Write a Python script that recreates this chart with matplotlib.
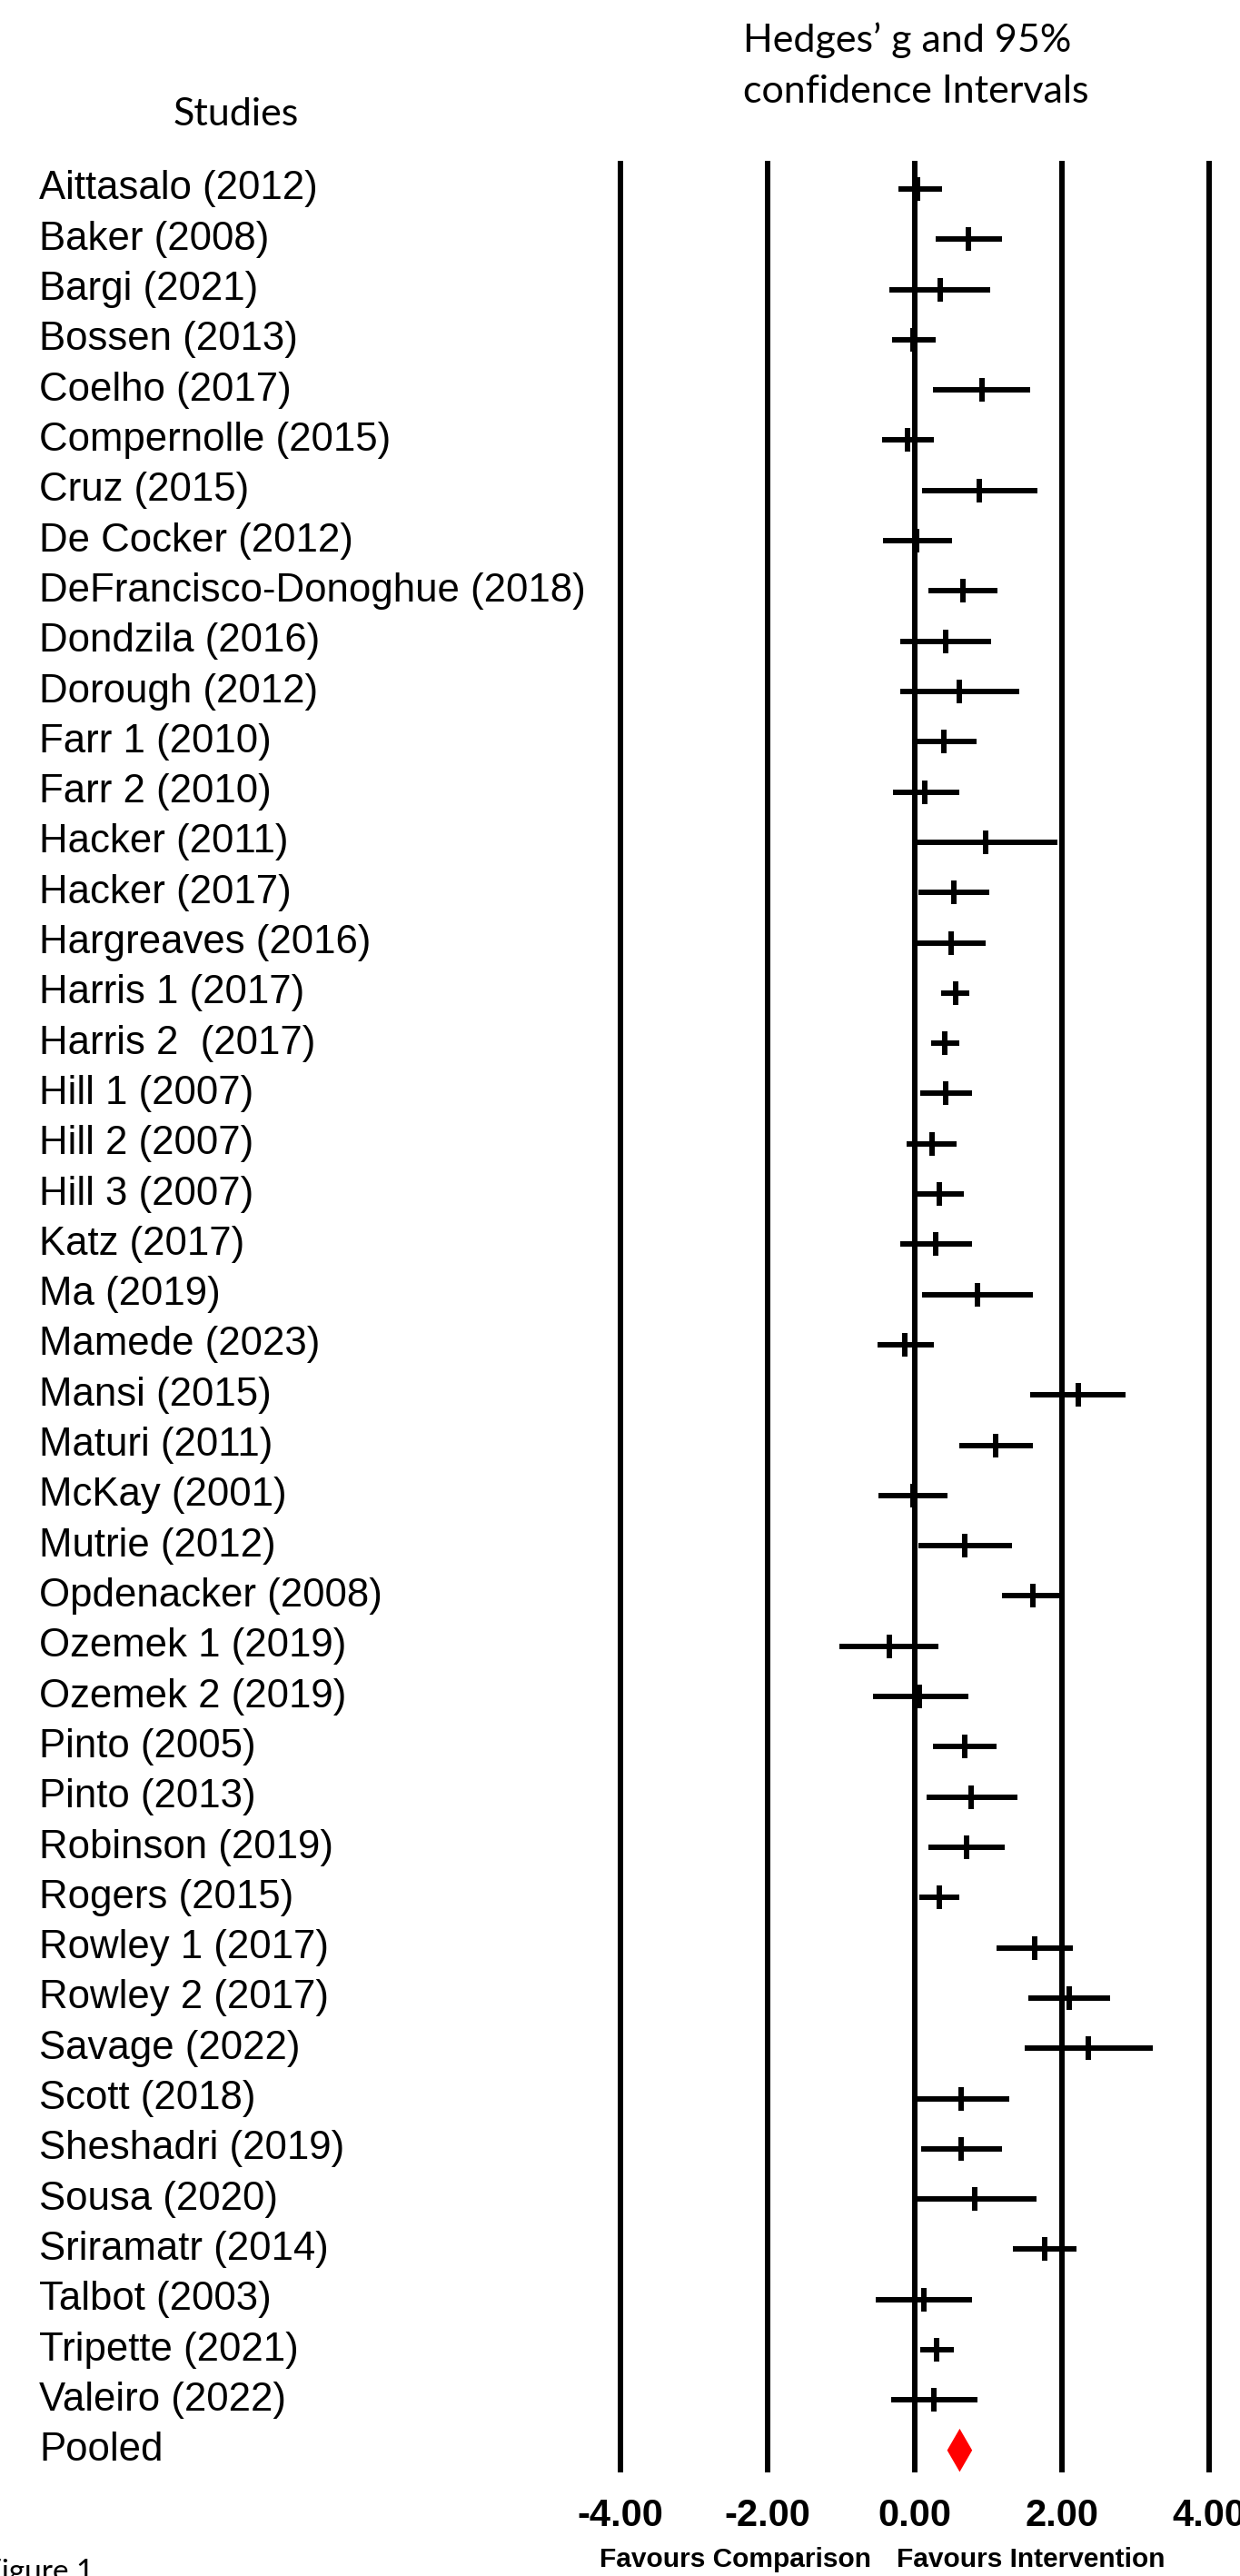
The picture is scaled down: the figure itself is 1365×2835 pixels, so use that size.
import matplotlib
matplotlib.use("Agg")
import matplotlib.pyplot as plt
from matplotlib.transforms import blended_transform_factory
from matplotlib.patches import Polygon

studies = ["Aittasalo (2012)", "Baker (2008)", "Bargi (2021)", "Bossen (2013)", "Coelho (2017)",
           "Compernolle (2015)", "Cruz (2015)", "De Cocker (2012)", "DeFrancisco-Donoghue (2018)",
           "Dondzila (2016)", "Dorough (2012)", "Farr 1 (2010)", "Farr 2 (2010)", "Hacker (2011)",
           "Hacker (2017)", "Hargreaves (2016)", "Harris 1 (2017)", "Harris 2  (2017)", "Hill 1 (2007)",
           "Hill 2 (2007)", "Hill 3 (2007)", "Katz (2017)", "Ma (2019)", "Mamede (2023)", "Mansi (2015)",
           "Maturi (2011)", "McKay (2001)", "Mutrie (2012)", "Opdenacker (2008)", "Ozemek 1 (2019)",
           "Ozemek 2 (2019)", "Pinto (2005)", "Pinto (2013)", "Robinson (2019)", "Rogers (2015)",
           "Rowley 1 (2017)", "Rowley 2 (2017)", "Savage (2022)", "Scott (2018)", "Sheshadri (2019)",
           "Sousa (2020)", "Sriramatr (2014)", "Talbot (2003)", "Tripette (2021)", "Valeiro (2022)"]
g_mean = [0.04, 0.73, 0.34, -0.03, 0.91, -0.10, 0.88, 0.03, 0.65,
          0.42, 0.61, 0.40, 0.14, 0.96, 0.53, 0.49, 0.55, 0.41, 0.42,
          0.23, 0.33, 0.29, 0.85, -0.13, 2.22, 1.10, -0.03, 0.68, 1.61, -0.35,
          0.06, 0.68, 0.77, 0.70, 0.33, 1.63, 2.10, 2.36, 0.63, 0.63,
          0.82, 1.77, 0.12, 0.30, 0.26]
g_lower = [-0.22, 0.29, -0.35, -0.31, 0.25, -0.45, 0.10, -0.43, 0.19,
           -0.20, -0.20, -0.04, -0.30, 0.02, 0.05, 0.02, 0.36, 0.22, 0.08,
           -0.11, 0.02, -0.20, 0.10, -0.51, 1.57, 0.60, -0.50, 0.05, 1.19, -1.02,
           -0.57, 0.25, 0.16, 0.18, 0.06, 1.11, 1.54, 1.49, -0.04, 0.09,
           0.02, 1.33, -0.53, 0.07, -0.32]
g_upper = [0.37, 1.19, 1.02, 0.29, 1.57, 0.26, 1.67, 0.51, 1.12,
           1.04, 1.42, 0.84, 0.60, 1.94, 1.01, 0.96, 0.74, 0.60, 0.78,
           0.57, 0.67, 0.78, 1.60, 0.26, 2.87, 1.61, 0.44, 1.32, 2.03, 0.32,
           0.73, 1.11, 1.39, 1.22, 0.60, 2.15, 2.66, 3.23, 1.29, 1.18,
           1.66, 2.20, 0.78, 0.53, 0.85]
pooled_label = "Pooled"
pooled_mean, pooled_lower, pooled_upper = 0.61, 0.44, 0.78
x_ticks = [-4.0, -2.0, 0.0, 2.0, 4.0]

W, H = 1365, 2835
fig = plt.figure(figsize=(W / 100, H / 100), dpi=100)
fig.patch.set_facecolor("white")

ax_left_px, ax_right_px = 674.9, 1339.1
ax_top_px, ax_bot_px = 177, 2721
ax = fig.add_axes([ax_left_px / W, 1 - ax_bot_px / H,
                   (ax_right_px - ax_left_px) / W, (ax_bot_px - ax_top_px) / H])
ax.set_xlim(-4.1, 4.1)
n = len(studies)
ax.set_ylim(n + 0.44, -0.56)
for s in ax.spines.values():
    s.set_visible(False)
ax.set_yticks([])

# vertical reference lines
for xv in x_ticks:
    ax.axvline(xv, color="black", lw=4.3, zorder=1)

rows = list(range(n))
ax.hlines(rows, g_lower, g_upper, color="black", lw=4.3, capstyle="butt", zorder=3)
ax.plot(g_mean, rows, linestyle="none", marker="|", markersize=18.7,
        markeredgewidth=4.3, color="black", zorder=4)

# pooled diamond
yp = n
hh = 0.43
ax.add_patch(Polygon([[pooled_lower, yp], [pooled_mean, yp - hh],
                      [pooled_upper, yp], [pooled_mean, yp + hh]],
                     closed=True, facecolor="red", edgecolor="none", zorder=5))

ax.set_xticks(x_ticks)
ax.set_xticklabels([f"{v:.2f}" for v in x_ticks],
                   fontdict=dict(family="Liberation Sans", weight="bold", size=30))
ax.tick_params(axis="x", length=0, pad=20)

# study labels
trans = blended_transform_factory(fig.transFigure, ax.transData)
for i, name in enumerate(studies + [pooled_label]):
    ax.text(43 / W, i, name, transform=trans, ha="left", va="center",
            fontsize=31.5, family="Liberation Sans", clip_on=False)

# headers
hdr_font = "Lato"
fig.text(260 / W, 1 - 138 / H, "Studies", ha="center", va="baseline",
         fontsize=31, family=hdr_font)
fig.text(818 / W, 1 - 57 / H, "Hedges\u2019 g and 95%", ha="left", va="baseline",
         fontsize=31, family=hdr_font)
fig.text(818 / W, 1 - 113 / H, "confidence Intervals", ha="left", va="baseline",
         fontsize=31, family=hdr_font)

# favours labels
fav = dict(family="Liberation Sans", weight="bold", size=21.5)
fig.text(810 / W, 1 - 2817 / H, "Favours Comparison", ha="center", va="center", **fav)
fig.text(1135 / W, 1 - 2817 / H, "Favours Intervention", ha="center", va="center", **fav)

# cut-off caption at bottom left
fig.text(-17 / W, 1 - 2816 / H, "Figure 1", ha="left", va="top",
         fontsize=24, family="Lato")

fig.savefig("out.png", dpi=100)
